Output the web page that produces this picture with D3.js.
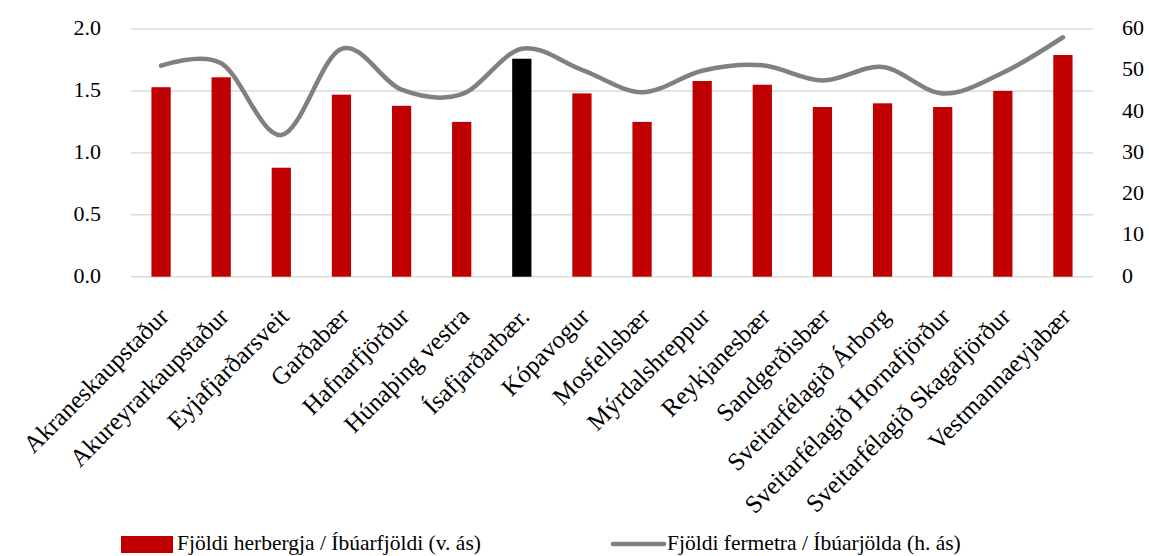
<!DOCTYPE html>
<html>
<head>
<meta charset="utf-8">
<script src="https://cdn.jsdelivr.net/npm/d3@7"></script>
<style>
  html, body { margin: 0; padding: 0; background: #fff; }
  svg { display: block; }
  text { font-family: "Palatino Linotype", "Book Antiqua", Palatino, "Liberation Serif", "DejaVu Serif", serif; fill: #000; }
</style>
</head>
<body>
<svg id="chart" width="1149" height="556"></svg>
<script>
// Sveitarfélög (categories)
const categories = [
  "Akraneskaupstaður", "Akureyrarkaupstaður", "Eyjafjarðarsveit", "Garðabær",
  "Hafnarfjörður", "Húnaþing vestra", "Ísafjarðarbær.", "Kópavogur",
  "Mosfellsbær", "Mýrdalshreppur", "Reykjanesbær", "Sandgerðisbær",
  "Sveitarfélagið Árborg", "Sveitarfélagið Hornafjörður", "Sveitarfélagið Skagafjörður", "Vestmannaeyjabær"
];
// Fjöldi herbergja / Íbúarfjöldi (vinstri ás)
const rooms = [1.53, 1.61, 0.88, 1.47, 1.38, 1.25, 1.76, 1.48, 1.25, 1.58, 1.55, 1.37, 1.40, 1.37, 1.50, 1.79];
// Fjöldi fermetra / Íbúarfjölda (hægri ás)
const area = [51.1, 51.7, 34.3, 55.2, 45.3, 44.2, 55.2, 50.1, 44.7, 49.9, 51.2, 47.5, 50.8, 44.4, 49.4, 58.0];
// Highlighted category
const highlight = "Ísafjarðarbær.";

const leftTicks = [0, 0.5, 1.0, 1.5, 2.0];
const rightTicks = [0, 10, 20, 30, 40, 50, 60];
const legendLabels = ["Fjöldi herbergja / Íbúarfjöldi (v. ás)", "Fjöldi fermetra / Íbúarjölda (h. ás)"];

const svg = d3.select("#chart");
const plot = { left: 131, right: 1093, top: 29, bottom: 276.7 };
const tickFont = 22;
const labelFont = 25;
const legendFont = 21.5;

const x = d3.scaleBand()
  .domain(categories)
  .range([plot.left, plot.right])
  .paddingInner(0.68)
  .paddingOuter(0.34);
const yL = d3.scaleLinear().domain([0, 2]).range([plot.bottom, plot.top]);
const yR = d3.scaleLinear().domain([0, 60]).range([plot.bottom, plot.top]);

// Gridlines
svg.append("g")
  .selectAll("line")
  .data(leftTicks)
  .join("line")
  .attr("x1", plot.left)
  .attr("x2", plot.right)
  .attr("y1", d => yL(d))
  .attr("y2", d => yL(d))
  .attr("stroke", "#d9d9d9")
  .attr("stroke-width", 1.4);

// Left axis labels
const leftAxis = d3.axisLeft(yL).tickValues(leftTicks).tickFormat(d3.format(".1f")).tickSize(0).tickPadding(0);
svg.append("g")
  .attr("transform", `translate(${plot.left - 30},0)`)
  .call(leftAxis)
  .call(g => g.select(".domain").remove())
  .call(g => g.selectAll("text")
    .attr("font-size", tickFont)
    .attr("font-family", null)
    .attr("fill", "#000")
    .attr("dy", "0.25em"));

// Right axis labels
const rightAxis = d3.axisRight(yR).tickValues(rightTicks).tickFormat(d3.format("d")).tickSize(0).tickPadding(0);
svg.append("g")
  .attr("transform", `translate(${plot.right + 29},0)`)
  .call(rightAxis)
  .call(g => g.select(".domain").remove())
  .call(g => g.selectAll("text")
    .attr("font-size", tickFont)
    .attr("font-family", null)
    .attr("fill", "#000")
    .attr("dy", "0.25em"));

// Bars
svg.append("g")
  .selectAll("rect")
  .data(categories.map((c, i) => ({ c, v: rooms[i] })))
  .join("rect")
  .attr("x", d => x(d.c))
  .attr("width", x.bandwidth())
  .attr("y", d => yL(d.v))
  .attr("height", d => yL(0) - yL(d.v))
  .attr("fill", d => d.c === highlight ? "#000000" : "#c00000");

// Smoothed line
const line = d3.line()
  .x(d => x(d.c) + x.bandwidth() / 2)
  .y(d => yR(d.v))
  .curve(d3.curveCardinal.tension(0));
svg.append("path")
  .datum(categories.map((c, i) => ({ c, v: area[i] })))
  .attr("d", line)
  .attr("fill", "none")
  .attr("stroke", "#808080")
  .attr("stroke-width", 4.5)
  .attr("stroke-linecap", "round")
  .attr("stroke-linejoin", "round");

// Category labels, rotated
svg.append("g")
  .selectAll("text")
  .data(categories)
  .join("text")
  .attr("text-anchor", "end")
  .attr("font-size", labelFont)
  .attr("transform", d => `translate(${x(d) + x.bandwidth() / 2 + 9},${318}) rotate(-45)`)
  .text(d => d);

// Legend
const legend = svg.append("g");
legend.append("rect")
  .attr("x", 121).attr("y", 536).attr("width", 52).attr("height", 17)
  .attr("fill", "#c00000");
legend.append("text")
  .attr("x", 177).attr("y", 550)
  .attr("font-size", legendFont)
  .text(legendLabels[0]);
legend.append("line")
  .attr("x1", 613).attr("x2", 664).attr("y1", 544).attr("y2", 544)
  .attr("stroke", "#808080").attr("stroke-width", 4.5).attr("stroke-linecap", "round");
legend.append("text")
  .attr("x", 667).attr("y", 550)
  .attr("font-size", legendFont)
  .text(legendLabels[1]);
</script>
</body>
</html>
